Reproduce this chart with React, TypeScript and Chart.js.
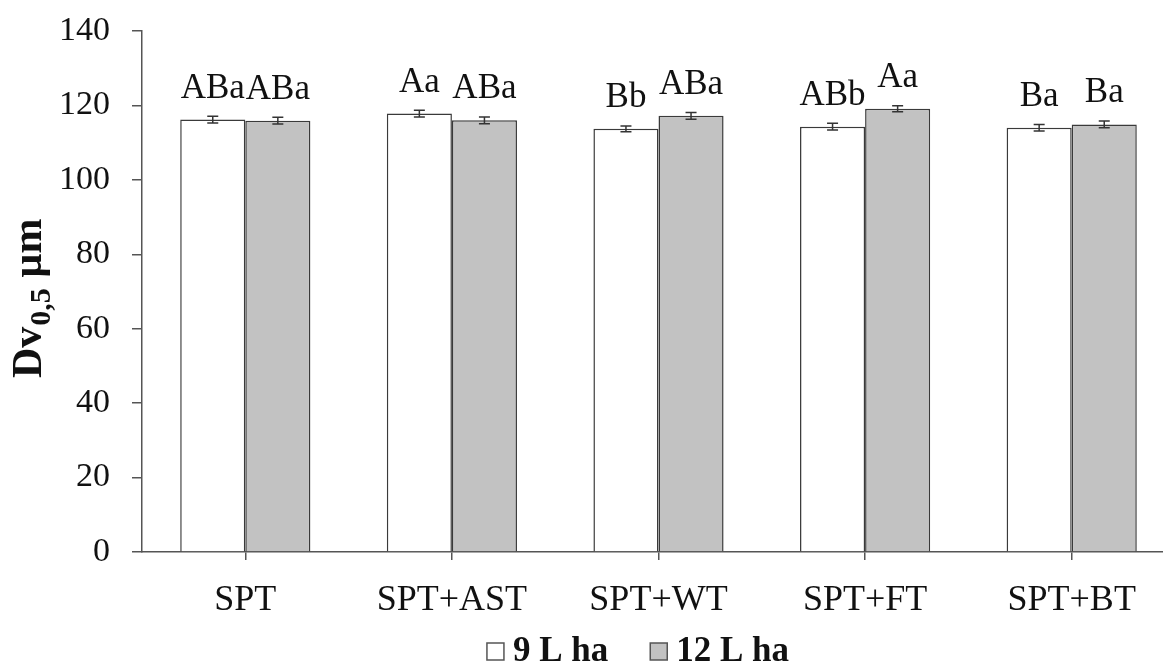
import React, { useEffect, useRef } from "react";
import { Chart, registerables } from "chart.js";

Chart.register(...registerables);

const categories = ["SPT", "SPT+AST", "SPT+WT", "SPT+FT", "SPT+BT"];
const series9Label = "9 L ha";
const series12Label = "12 L ha";
const values9 = [116.2, 117.8, 113.7, 114.3, 114.0];
const values12 = [115.9, 116.0, 117.2, 119.1, 114.9];
const errors9 = [0.9, 0.9, 0.8, 0.9, 0.9];
const errors12 = [0.9, 0.9, 0.9, 0.8, 0.9];
const letters9 = ["ABa", "Aa", "Bb", "ABb", "Ba"];
const letters12 = ["ABa", "ABa", "ABa", "Aa", "Ba"];
const yTicks = [0, 20, 40, 60, 80, 100, 120, 140];

const SERIF = '"Liberation Serif", "Times New Roman", serif';
const AXIS_COLOR = "#555555";
const BAR_BORDER = "#3a3a3a";
const GRAY_FILL = "#c2c2c2";

const errorBarPlugin = {
  id: "errorBars",
  afterDatasetsDraw(chart: any) {
    const ctx = chart.ctx;
    const yScale = chart.scales.y;
    const errs = [errors9, errors12];
    const lets = [letters9, letters12];
    chart.data.datasets.forEach((ds: any, di: number) => {
      const meta = chart.getDatasetMeta(di);
      meta.data.forEach((bar: any, i: number) => {
        const v = ds.data[i];
        const e = errs[di][i];
        const x = bar.x;
        const yTop = yScale.getPixelForValue(v + e);
        const yBot = yScale.getPixelForValue(v - e);
        ctx.save();
        ctx.strokeStyle = "#333333";
        ctx.lineWidth = 1.5;
        ctx.beginPath();
        ctx.moveTo(x, yTop);
        ctx.lineTo(x, yBot);
        ctx.moveTo(x - 5.5, yTop);
        ctx.lineTo(x + 5.5, yTop);
        ctx.moveTo(x - 5.5, yBot);
        ctx.lineTo(x + 5.5, yBot);
        ctx.stroke();
        ctx.fillStyle = "#111111";
        ctx.font = `35px ${SERIF}`;
        ctx.textAlign = "center";
        ctx.textBaseline = "alphabetic";
        const yv = yScale.getPixelForValue(v);
        ctx.fillText(lets[di][i], x, yv - 22);
        ctx.restore();
      });
    });
  },
};

const decorPlugin = {
  id: "decor",
  afterDraw(chart: any) {
    const ctx = chart.ctx;
    // Y axis title with subscript
    ctx.save();
    ctx.translate(41, 378);
    ctx.rotate(-Math.PI / 2);
    ctx.fillStyle = "#111111";
    ctx.textAlign = "left";
    ctx.textBaseline = "alphabetic";
    ctx.font = `bold 42px ${SERIF}`;
    ctx.fillText("Dv", 0, 0);
    let w = ctx.measureText("Dv").width;
    ctx.font = `bold 30px ${SERIF}`;
    ctx.fillText("0,5", w + 1, 9);
    w += 1 + ctx.measureText("0,5").width;
    ctx.font = `bold 42px ${SERIF}`;
    ctx.fillText(" \u00b5m", w, 0);
    ctx.restore();

    // Legend
    const items = [
      { label: series9Label, fill: "#ffffff" },
      { label: series12Label, fill: GRAY_FILL },
    ];
    ctx.save();
    ctx.font = `bold 35px ${SERIF}`;
    const box = 17;
    const gap = 9;
    const spacing = 42;
    let total = 0;
    items.forEach((it, i) => {
      total += box + gap + ctx.measureText(it.label).width;
      if (i < items.length - 1) total += spacing;
    });
    let x = 638 - total / 2;
    const baseline = 661;
    items.forEach((it) => {
      ctx.fillStyle = it.fill;
      ctx.fillRect(x, baseline - box - 1, box, box);
      ctx.strokeStyle = AXIS_COLOR;
      ctx.lineWidth = 1.5;
      ctx.strokeRect(x, baseline - box - 1, box, box);
      x += box + gap;
      ctx.fillStyle = "#111111";
      ctx.textAlign = "left";
      ctx.textBaseline = "alphabetic";
      ctx.fillText(it.label, x, baseline);
      x += ctx.measureText(it.label).width + spacing;
    });
    ctx.restore();
  },
};

export default function App() {
  const canvasRef = useRef<HTMLCanvasElement | null>(null);

  useEffect(() => {
    document.body.style.margin = "0";
    const canvas = canvasRef.current;
    if (!canvas) return;
    const chart = new Chart(canvas, {
      type: "bar",
      data: {
        labels: categories,
        datasets: [
          {
            label: series9Label,
            data: values9,
            backgroundColor: "#ffffff",
            borderColor: BAR_BORDER,
            borderWidth: 1.5,
            categoryPercentage: 0.63,
            barPercentage: 1,
          },
          {
            label: series12Label,
            data: values12,
            backgroundColor: GRAY_FILL,
            borderColor: BAR_BORDER,
            borderWidth: 1.5,
            categoryPercentage: 0.63,
            barPercentage: 1,
          },
        ],
      },
      options: {
        responsive: false,
        animation: false,
        devicePixelRatio: 1,
        layout: { padding: { top: 31, right: 15, left: 0, bottom: 0 } },
        plugins: {
          legend: { display: false },
          tooltip: { enabled: false },
          title: { display: false },
        },
        scales: {
          x: {
            grid: {
              display: true,
              drawOnChartArea: false,
              drawTicks: true,
              tickLength: 8,
              offset: false,
              color: AXIS_COLOR,
              lineWidth: 1.5,
            },
            border: { display: true, color: AXIS_COLOR, width: 1.5 },
            ticks: {
              color: "#111111",
              font: { family: SERIF, size: 36 },
              padding: 19,
              maxRotation: 0,
              autoSkip: false,
            },
            afterFit(scale: any) {
              scale.height = 112;
              scale.paddingLeft = 0;
              scale.paddingRight = 0;
            },
          },
          y: {
            min: 0,
            max: 140,
            afterBuildTicks(scale: any) {
              scale.ticks = yTicks.map((v) => ({ value: v }));
            },
            grid: {
              display: true,
              drawOnChartArea: false,
              drawTicks: true,
              tickLength: 10,
              color: AXIS_COLOR,
              lineWidth: 1.5,
            },
            border: { display: true, color: AXIS_COLOR, width: 1.5 },
            ticks: {
              color: "#111111",
              font: { family: SERIF, size: 34 },
              padding: 22,
            },
            afterFit(scale: any) {
              scale.width = 142;
              scale.paddingTop = 0;
              scale.paddingBottom = 0;
            },
          },
        },
      },
      plugins: [errorBarPlugin, decorPlugin],
    });
    return () => chart.destroy();
  }, []);

  return (
    <div
      style={{
        position: "fixed",
        left: 0,
        top: 0,
        width: 1163,
        height: 664,
        overflow: "hidden",
        background: "#ffffff",
      }}
    >
      <canvas
        ref={canvasRef}
        width={1190}
        height={664}
        style={{ width: 1190, height: 664, display: "block" }}
      />
    </div>
  );
}
